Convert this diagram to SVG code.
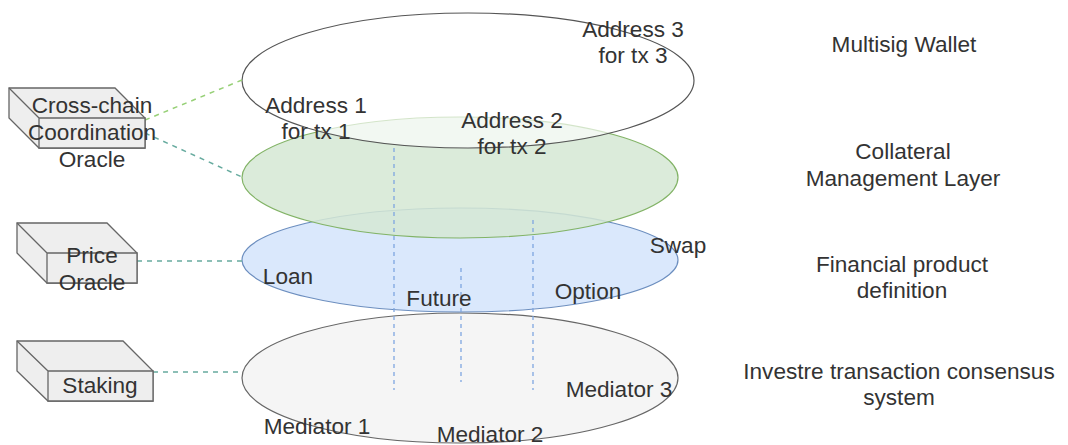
<svg xmlns="http://www.w3.org/2000/svg" width="1068" height="445" viewBox="0 0 1068 445">
<style>
text{font-family:"Liberation Sans",Arial,Helvetica,sans-serif;font-size:22.6px;fill:#333333;text-anchor:middle}
.cube{fill:#eeeeee;stroke:#666666;stroke-width:1.3}
.vd{stroke:#7ea6e0;stroke-width:1.3;stroke-dasharray:4 4;fill:none}
.cg{stroke:#97d077;stroke-width:1.5;stroke-dasharray:5 5;fill:none}
.ct{stroke:#67ab9f;stroke-width:1.5;stroke-dasharray:5 5;fill:none}
</style>
<rect width="1068" height="445" fill="#ffffff"/>
<g id="layer-consensus">
<ellipse cx="460" cy="378" rx="218" ry="65" fill="#f5f5f5" stroke="#666666" stroke-width="1.2"/>
</g>
<g id="layer-financial">
<ellipse cx="460" cy="260" rx="218" ry="52" fill="#dae8fc" stroke="#6c8ebf" stroke-width="1.2"/>
</g>
<g id="layer-collateral">
<ellipse cx="460" cy="177.5" rx="218" ry="60.5" fill="#d5e8d4" fill-opacity="0.85" stroke="#82b366" stroke-width="1.2"/>
</g>
<g id="layer-wallet">
<ellipse cx="468" cy="80.5" rx="226" ry="67.5" fill="#ffffff" fill-opacity="0.65" stroke="#555555" stroke-width="1.2"/>
</g>
<g id="connectors">
<line class="cg" x1="145" y1="120" x2="242" y2="80"/>
<line class="ct" x1="145" y1="133" x2="242" y2="177"/>
<line class="ct" x1="137" y1="261" x2="242" y2="261"/>
<line class="ct" x1="153" y1="372" x2="242" y2="372"/>
<line class="vd" x1="394" y1="148" x2="394" y2="390"/>
<line class="vd" x1="461" y1="268" x2="461" y2="382"/>
<line class="vd" x1="533" y1="220" x2="533" y2="390"/>
</g>
<g id="cube-crosschain">
<path class="cube" d="M9,88 H115 L145,118 V148 H39 L9,118 Z"/>
<path class="cube" d="M39,118 H145 V148 H39 Z M9,88 L39,118"/>
<text x="92" y="113">Cross-chain</text>
<text x="92" y="140">Coordination</text>
<text x="92" y="167">Oracle</text>
</g>
<g id="cube-price">
<path class="cube" d="M17,223 H107 L137,253 V283 H47 L17,253 Z"/>
<path class="cube" d="M47,253 H137 V283 H47 Z M17,223 L47,253"/>
<text x="92" y="263">Price</text>
<text x="92" y="290">Oracle</text>
</g>
<g id="cube-staking">
<path class="cube" d="M17,341 H123 L153,371 V401 H48 L17,371 Z"/>
<path class="cube" d="M48,371 H153 V401 H48 Z M17,341 L48,371"/>
<text x="100" y="393">Staking</text>
</g>
<g id="labels-wallet">
<text x="633" y="37">Address 3</text>
<text x="633" y="63">for tx 3</text>
<text x="316" y="113">Address 1</text>
<text x="316" y="139">for tx 1</text>
<text x="512" y="128">Address 2</text>
<text x="512" y="154">for tx 2</text>
</g>
<g id="labels-products">
<text x="678" y="253">Swap</text>
<text x="288" y="284">Loan</text>
<text x="439" y="306">Future</text>
<text x="588" y="299">Option</text>
</g>
<g id="labels-mediators">
<text x="619" y="397">Mediator 3</text>
<text x="317" y="434">Mediator 1</text>
<text x="490" y="442">Mediator 2</text>
</g>
<g id="layer-titles">
<text x="904" y="52">Multisig Wallet</text>
<text x="903" y="159">Collateral</text>
<text x="903" y="186">Management Layer</text>
<text x="902" y="272">Financial product</text>
<text x="902" y="298">definition</text>
<text x="899" y="379">Investre transaction consensus</text>
<text x="899" y="405">system</text>
</g>
</svg>
